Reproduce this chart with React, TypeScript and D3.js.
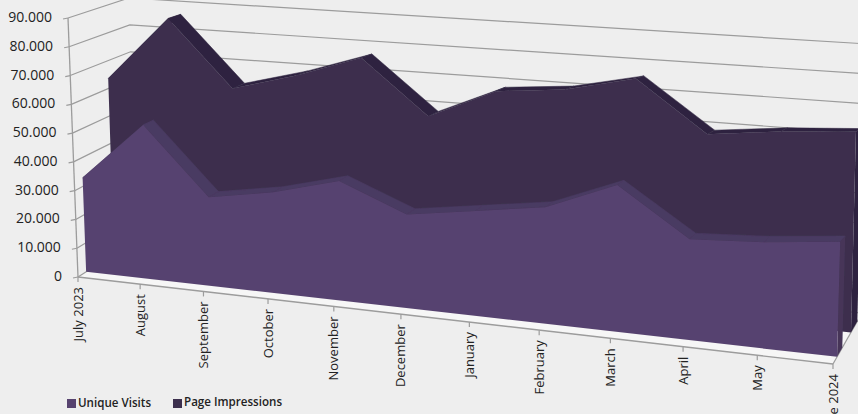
import React from "react";
import * as d3 from "d3";

const categories = ["July 2023","August","September","October","November","December","January","February","March","April","May","June 2024"];
const uniqueVisits = [33000,53000,30000,33500,39000,30000,33000,36000,44500,30000,31000,33000];
const pageImpressions = [63600,86500,63000,69000,76500,58000,68000,70000,75000,58500,61000,62500];
const yTicks = [0,10000,20000,30000,40000,50000,60000,70000,80000,90000];

const W = 858, H = 414;
const corners = {
  f0: [78,277], f1: [833,364], ft0: [68,18], ft1: [842,43],
  b0: [136,240], b1: [862,313], bt0: [129,-2], bt1: [868,44],
};
const depth = { visitsFront: .14, visitsBack: .32, pvFront: .62, pvBack: .84 };
const K = 1.115;

const uScale = d3.scalePoint<number>().domain(d3.range(categories.length)).range([0,1]);
const vScale = d3.scaleLinear().domain([0,90000]).range([0,1]);
const lerp = (a:number,b:number,t:number)=>a+(b-a)*t;
const lp = (a:number[],b:number[],t:number)=>[lerp(a[0],b[0],t),lerp(a[1],b[1],t)];

function project(i:number, value:number, d:number):[number,number]{
  const u = uScale(i)!;
  const t = u/(u+(1-u)*K);
  const v = vScale(value);
  const bot = lp(lp(corners.f0,corners.f1,t), lp(corners.b0,corners.b1,t), d);
  const top = lp(lp(corners.ft0,corners.ft1,t), lp(corners.bt0,corners.bt1,t), d);
  const p = lp(bot,top,v);
  return [p[0],p[1]];
}
const line = d3.line<[number,number]>();
const poly = (pts:[number,number][]) => line(pts)+"Z";
const last = categories.length-1;

function Area({values,front,back,cFront,cTop,cSide}:{values:number[];front:number;back:number;cFront:string;cTop:string;cSide:string}){
  const frontPts = values.map((v,i)=>project(i,v,front));
  const frontPoly = poly([project(0,0,front),...frontPts,project(last,0,front)]);
  return <g>
    {values.slice(1).map((v,k)=>(
      <path key={k} d={poly([project(k,values[k],front),project(k+1,v,front),project(k+1,v,back),project(k,values[k],back)])} fill={cTop} stroke={cTop} strokeWidth={0.5}/>
    ))}
    <path d={poly([project(last,0,front),project(last,values[last],front),project(last,values[last],back),project(last,0,back)])} fill={cSide}/>
    <path d={frontPoly} fill={cFront}/>
  </g>;
}

export default function App(){
  const grid = "#9c9c9c";
  return (
    <svg width={W} height={H} viewBox={`0 0 ${W} ${H}`} style={{position:"absolute",left:0,top:0,background:"#eeeeee"}}>
      <defs><filter id="soft" x="-5%" y="-5%" width="110%" height="110%"><feGaussianBlur stdDeviation="0.45"/></filter></defs>
      <g filter="url(#soft)">
        <path d={poly([project(0,0,0),project(last,0,0),project(last,0,1),project(0,0,1)])} fill="#f6f6f6"/>
        {yTicks.map(t=>{
          const a=project(0,t,0), b=project(0,t,1), c=project(last,t,1);
          return <g key={t}>
            <path d={line([a,b,c])!} fill="none" stroke={grid} strokeWidth={1.2}/>
            <path d={line([[a[0]-5,a[1]+1],a])!} stroke={grid} strokeWidth={1.2}/>
          </g>;
        })}
        <path d={line([project(0,0,0),project(0,90000,0)])!} stroke={grid} strokeWidth={1.3}/>
        <path d={line([project(0,0,0),project(last,0,0)])!} stroke={grid} strokeWidth={1.4}/>
        <path d={line([project(last,0,0),project(last,0,1)])!} stroke={grid} strokeWidth={1.2}/>
        {categories.map((c,i)=>{
          const p=project(i,0,0);
          return <path key={c} d={line([p,[p[0],p[1]+5]])!} stroke={grid} strokeWidth={1.2}/>;
        })}
        <Area values={pageImpressions} front={depth.pvFront} back={depth.pvBack} cFront="#3c2f4d" cTop="#2f2440" cSide="#2f2440"/>
        <Area values={uniqueVisits} front={depth.visitsFront} back={depth.visitsBack} cFront="#57436f" cTop="#4a3a62" cSide="#463659"/>
      </g>
      <g fontFamily="'Open Sans', sans-serif" fill="#222222">
        {yTicks.map(t=>{
          const p=project(0,t,0);
          return <text key={t} x={p[0]-16} y={p[1]+4} textAnchor="end" fontSize={14}>{t===0?"0":d3.format(",")(t).replace(",",".")}</text>;
        })}
        {categories.map((c,i)=>{
          const p=project(i,0,0);
          return <text key={c} transform={`translate(${p[0]+4.5},${p[1]+10}) rotate(-90)`} textAnchor="end" fontSize={13}>{c}</text>;
        })}
        <rect x={67} y={399} width={9} height={9} fill="#57436f"/>
        <text x={78} y={407} fontSize={11.6} fontWeight={600}>Unique Visits</text>
        <rect x={173} y={399} width={9} height={9} fill="#3c2f4d"/>
        <text x={184} y={406} fontSize={11.6} fontWeight={600}>Page Impressions</text>
      </g>
    </svg>
  );
}
